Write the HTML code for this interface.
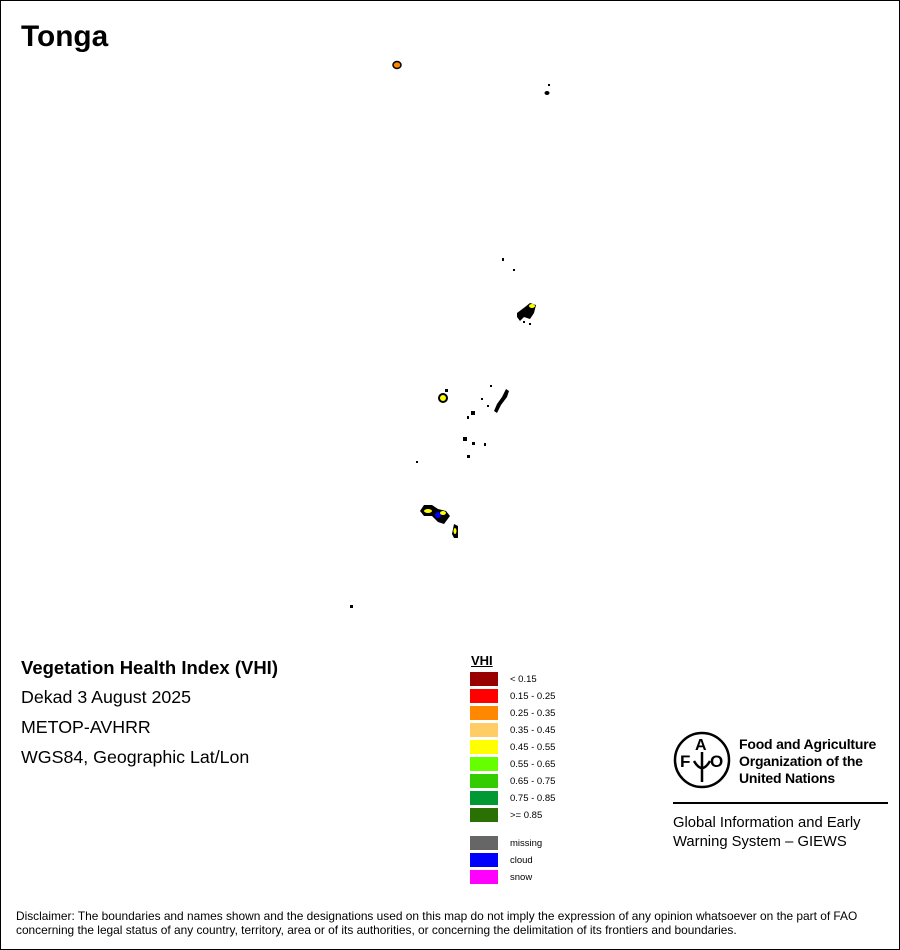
<!DOCTYPE html>
<html><head><meta charset="utf-8"><style>
body{margin:0;background:#fff}
#f{position:relative;width:898px;height:948px;border:1px solid #000;overflow:hidden;font-family:"Liberation Sans",Arial,sans-serif;color:#000}
.t{position:absolute;white-space:nowrap}
.sw{position:absolute;left:469px;width:28px;height:14px}
.lb{position:absolute;left:509px;font-size:9.5px}
</style></head><body><div id="f">
<div class="t" style="left:20px;top:19px;font-size:29.8px;font-weight:bold">Tonga</div>
<svg width="898" height="948" style="position:absolute;left:0;top:0">
<g fill="#000">
<ellipse cx="396" cy="64" rx="4" ry="3.5" fill="#f80" stroke="#000" stroke-width="1.5"/>
<rect x="547" y="83" width="2" height="2"/><ellipse cx="546" cy="92" rx="2.5" ry="2"/>
<rect x="501" y="257" width="2" height="3"/><rect x="512" y="268" width="2" height="2"/>
<path d="M516 312 l8 -6 l5 -4 l6 2 l-2 8 l-4 6 l-6 -2 l-4 4 l-3 -4z"/>
<rect x="522" y="320" width="2" height="2"/><rect x="528" y="322" width="2" height="2"/>
<ellipse cx="531" cy="305" rx="3" ry="2" fill="#ff0"/>
<ellipse cx="442" cy="397" rx="4" ry="4" stroke="#000" stroke-width="2" fill="#ff0"/>
<rect x="444" y="388" width="3" height="3"/>
<path d="M505 388 l3 2 l-2 6 l-6 8 l-4 8 l-3 -2 l3 -7 l5 -7z"/>
<rect x="489" y="384" width="2" height="2"/><rect x="480" y="397" width="2" height="2"/><rect x="470" y="410" width="4" height="4"/>
<rect x="466" y="415" width="2" height="3"/><rect x="486" y="404" width="2" height="2"/>
<rect x="462" y="436" width="4" height="4"/><rect x="471" y="441" width="3" height="3"/><rect x="483" y="442" width="2" height="3"/>
<rect x="466" y="454" width="3" height="3"/><rect x="415" y="460" width="2" height="2"/>
<path d="M419 510 l4 -6 l8 0 l6 4 l8 2 l4 5 l-6 8 l-6 -2 l-6 -6 l-8 0 z"/>
<ellipse cx="427" cy="510" rx="4" ry="2" fill="#ff0"/><ellipse cx="437" cy="514" rx="3" ry="3" fill="#00f"/><ellipse cx="442" cy="512" rx="3" ry="2" fill="#ff0"/>
<path d="M451 533 l2 -10 l4 2 l0 12 l-4 0z"/><ellipse cx="454" cy="530" rx="1.5" ry="3" fill="#ff0"/>
<rect x="349" y="604" width="3" height="3"/>
</g></svg>
<div class="t" style="left:20px;top:656px;font-size:18.5px;font-weight:bold">Vegetation Health Index (VHI)</div>
<div class="t" style="left:20px;top:686px;font-size:17.8px">Dekad 3 August 2025</div>
<div class="t" style="left:20px;top:716px;font-size:17.8px">METOP-AVHRR</div>
<div class="t" style="left:20px;top:746px;font-size:17.8px">WGS84, Geographic Lat/Lon</div>
<div class="t" style="left:470px;top:652px;font-size:13px;font-weight:bold;text-decoration:underline">VHI</div>
<div class="sw" style="top:671px;background:#900"></div><div class="lb" style="top:673px">&lt; 0.15</div>
<div class="sw" style="top:688px;background:#f00"></div><div class="lb" style="top:690px">0.15 - 0.25</div>
<div class="sw" style="top:705px;background:#f80"></div><div class="lb" style="top:707px">0.25 - 0.35</div>
<div class="sw" style="top:722px;background:#fc6"></div><div class="lb" style="top:724px">0.35 - 0.45</div>
<div class="sw" style="top:739px;background:#ff0"></div><div class="lb" style="top:741px">0.45 - 0.55</div>
<div class="sw" style="top:756px;background:#6f0"></div><div class="lb" style="top:758px">0.55 - 0.65</div>
<div class="sw" style="top:773px;background:#3c0"></div><div class="lb" style="top:775px">0.65 - 0.75</div>
<div class="sw" style="top:790px;background:#093"></div><div class="lb" style="top:792px">0.75 - 0.85</div>
<div class="sw" style="top:807px;background:#2b7003"></div><div class="lb" style="top:809px">&gt;= 0.85</div>
<div class="sw" style="top:835px;background:#666"></div><div class="lb" style="top:837px">missing</div>
<div class="sw" style="top:852px;background:#00f"></div><div class="lb" style="top:854px">cloud</div>
<div class="sw" style="top:869px;background:#f0f"></div><div class="lb" style="top:871px">snow</div>
<svg width="60" height="60" style="position:absolute;left:671px;top:729px" viewBox="0 0 60 60">
<circle cx="30" cy="30" r="27" fill="none" stroke="#000" stroke-width="2.5"/>
<text x="8" y="37" font-size="17" font-weight="bold" font-family="Liberation Sans">F</text>
<text x="23" y="20" font-size="16" font-weight="bold" font-family="Liberation Sans">A</text>
<text x="38" y="37" font-size="17" font-weight="bold" font-family="Liberation Sans">O</text>
<path d="M30 22 v30 M22 31 q8 14 16 0" stroke="#000" stroke-width="2.5" fill="none"/>
</svg>
<div class="t" style="left:738px;top:735px;font-size:14px;font-weight:bold;line-height:17px;letter-spacing:-0.2px">Food and Agriculture<br>Organization of the<br>United Nations</div>
<div style="position:absolute;left:672px;top:801px;width:215px;height:2px;background:#000"></div>
<div class="t" style="left:672px;top:813px;font-size:14.8px;line-height:19px">Global Information and Early<br>Warning System – GIEWS</div>
<div class="t" style="left:15px;top:908px;font-size:11.9px;line-height:14px">Disclaimer: The boundaries and names shown and the designations used on this map do not imply the expression of any opinion whatsoever on the part of FAO<br>concerning the legal status of any country, territory, area or of its authorities, or concerning the delimitation of its frontiers and boundaries.</div>
</div></body></html>
